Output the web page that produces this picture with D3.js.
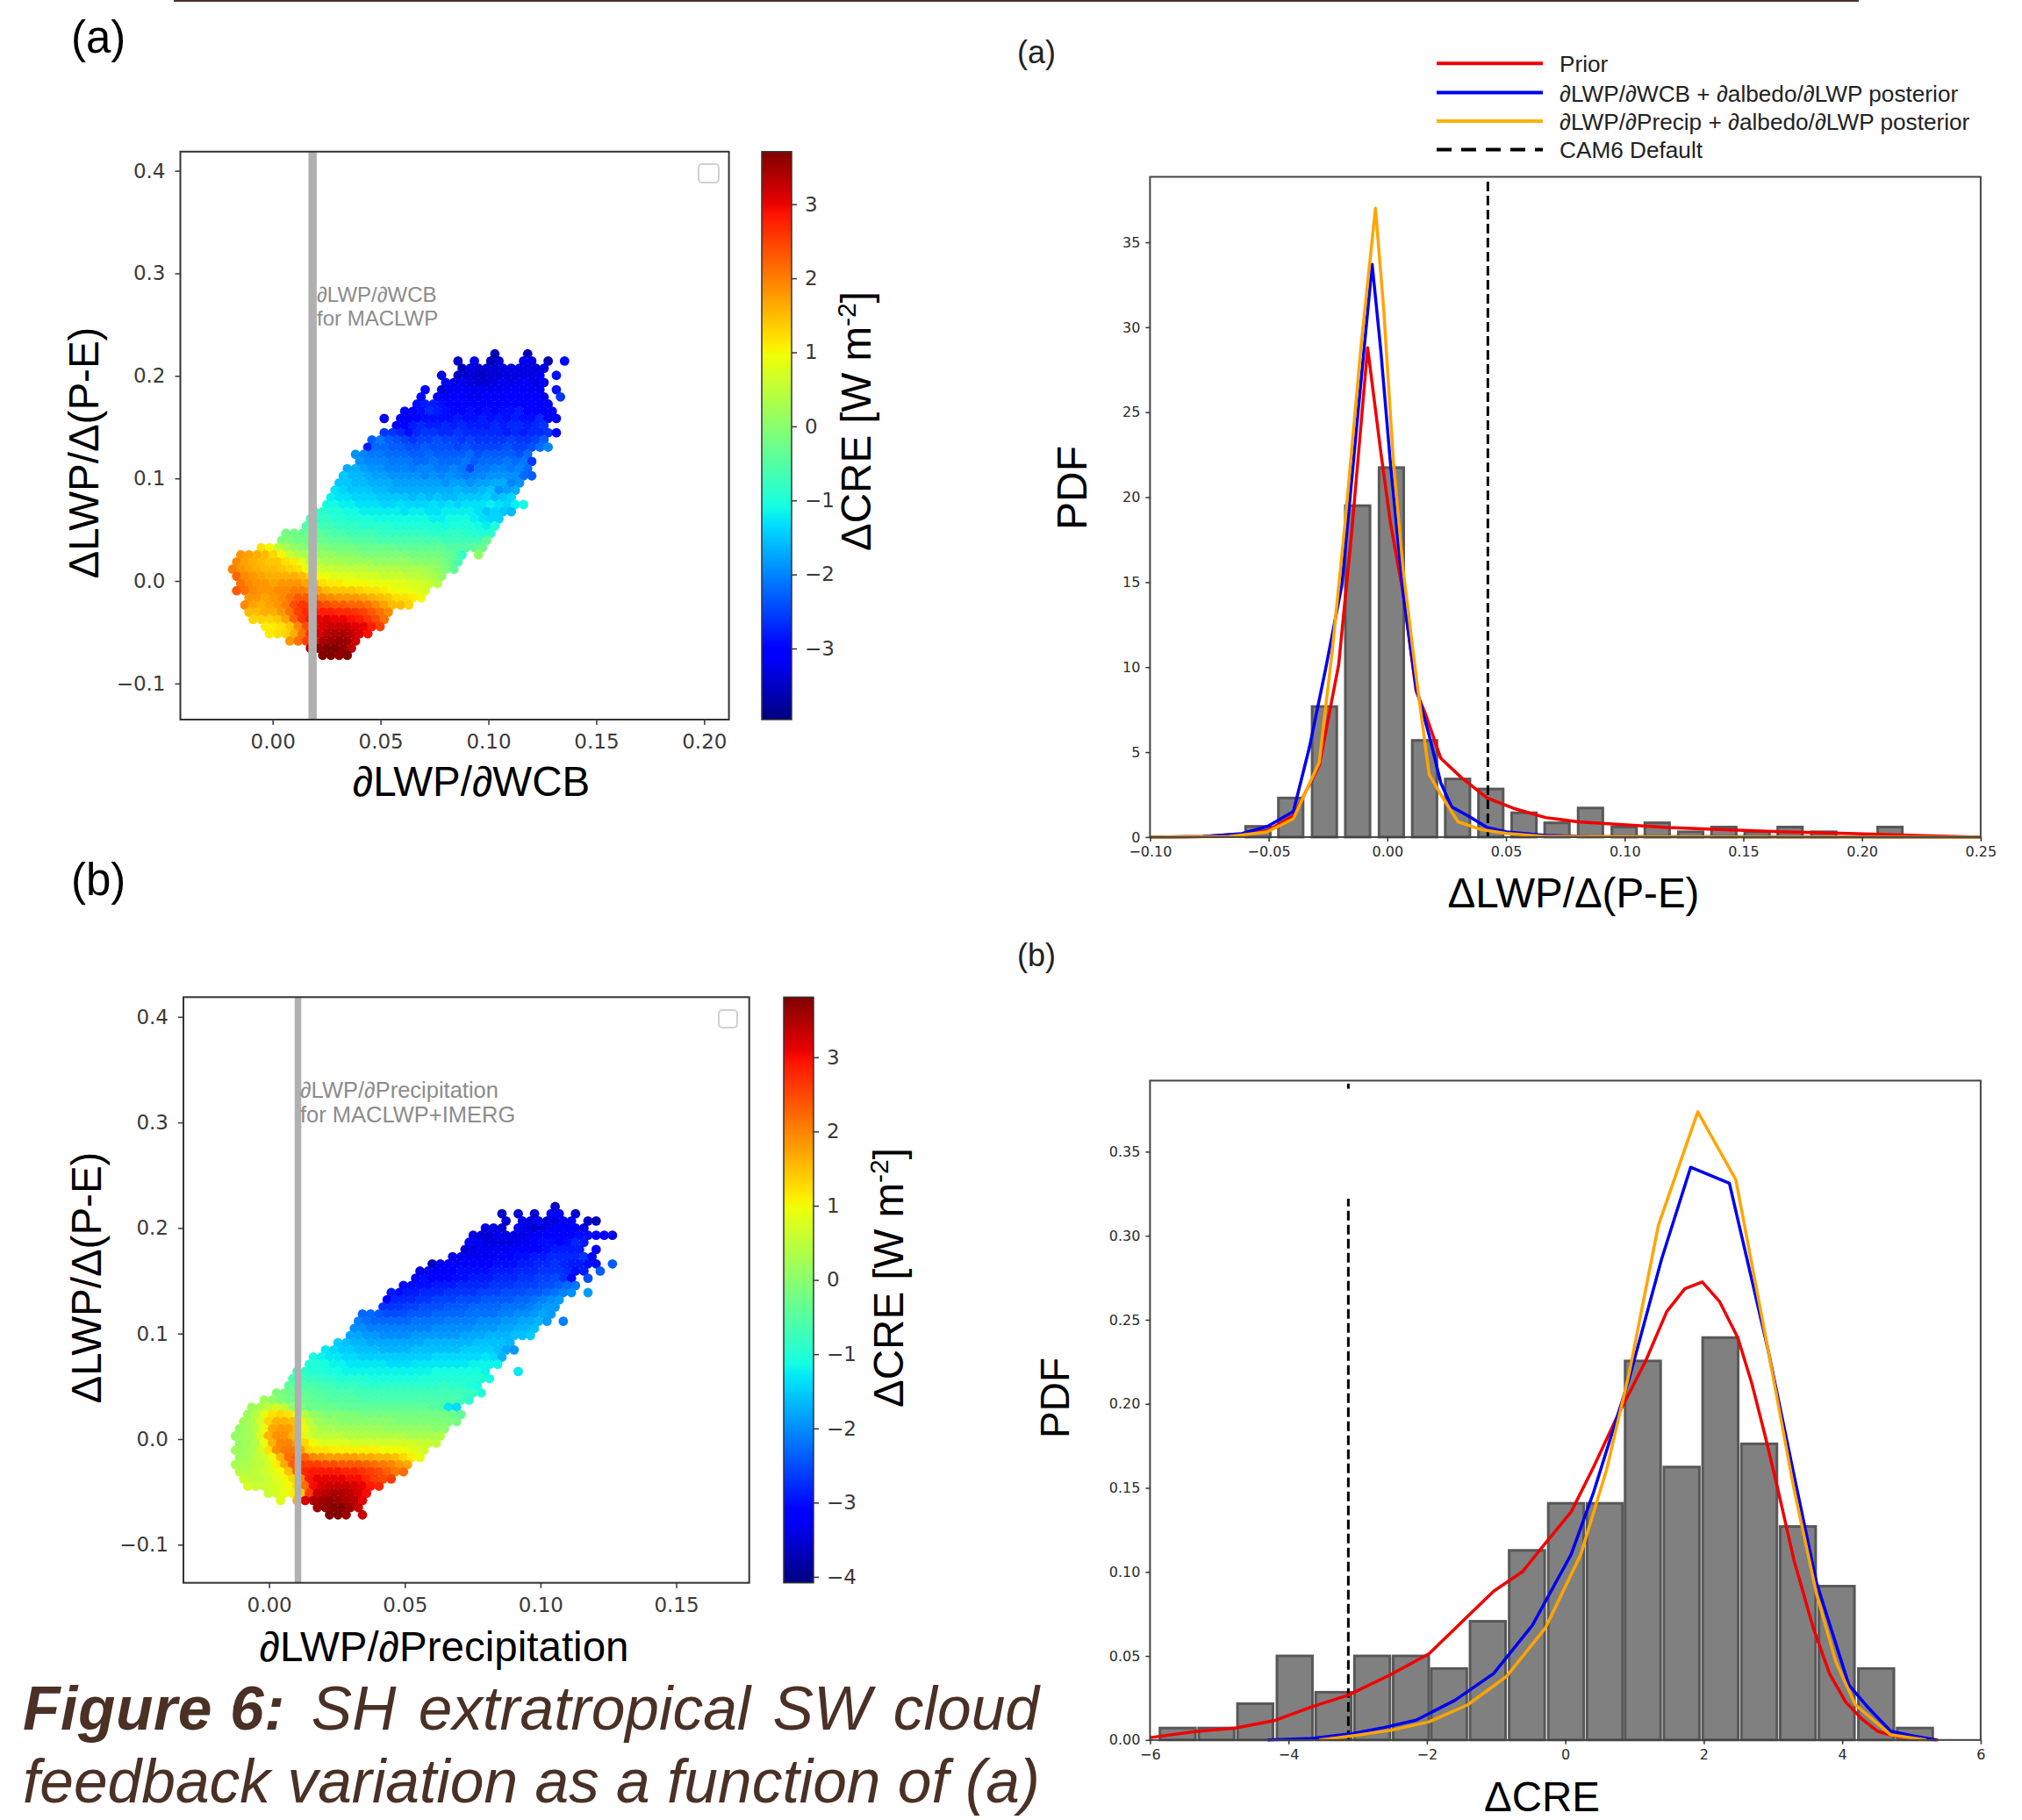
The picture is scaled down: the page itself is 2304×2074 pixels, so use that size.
<!DOCTYPE html>
<html>
<head>
<meta charset="utf-8">
<script src="https://d3js.org/d3.v7.min.js"></script>
<style>
body { margin: 0; background: #fff; }
text { font-family: "Liberation Sans", Arial, sans-serif; }
.mpl text { font-family: "DejaVu Sans", sans-serif; }
</style>
</head>
<body>
<div id="chart"></div>
<script>
// ---- scatter (a): lattice columns / rows, each row = [first column, CRE, CRE, ...], columns step by 2
const gridXA = [-.0186,-.0167,-.0148,-.0129,-.011,-.0091,-.0072,-.0053,-.0034,-.0015,.0004,.0023,.0042,.0061,.008,.0099,.0118,.0137,.0156,.0175,.0194,.0213,.0232,.0251,.027,.0289,.0308,.0327,.0346,.0365,.0384,.0403,.0422,.0441,.046,.0479,.0498,.0517,.0536,.0555,.0574,.0593,.0612,.0631,.065,.0669,.0688,.0707,.0726,.0745,.0764,.0783,.0802,.0821,.084,.0859,.0878,.0897,.0916,.0935,.0954,.0973,.0992,.1011,.103,.1049,.1068,.1087,.1106,.1125,.1144,.1163,.1182,.1201,.122,.1239,.1258,.1277,.1296,.1315,.1334,.1353,.1372];
const gridYA = [.2215,.2145,.2075,.2005,.1935,.1865,.1795,.1725,.1655,.1585,.1515,.1445,.1375,.1305,.1235,.1165,.1095,.1025,.0955,.0885,.0815,.0745,.0675,.0605,.0535,.0465,.0395,.0325,.0255,.0185,.0115,.0045,-.0025,-.0095,-.0165,-.0235,-.0305,-.0375,-.0445,-.0515,-.0585,-.0655,-.0725];
const rowsA = [
[64,-3.6,null,null,null,-3.5],
[55,-3.5,null,-3.1,null,-3.6,-3.4,null,null,-3.2,-3.3,null,-3.6,null,-3.1],
[56,-3.6,-3.3,-3.4,-3.4,-3.4,-3.3,-3.3,-3.3,-3.3,-3.4,-3.3],
[51,-3.3,null,-3.5,-3.4,-3.4,-3.5,-3.4,-3.4,-3.3,-3.3,-3.3,-3.3,-3.2,null,-2.9],
[52,-3.2,-3.3,-3.2,-3.3,-3.4,-3.4,-3.3,-3.2,-3.3,-3.2,-3.2,-3.3,-3.2],
[47,-3.0,null,-3.4,-3.2,-3.1,-3.2,-3.2,-3.2,-3.2,-3.2,-3.1,-3.1,-3.1,-3.2,-3.2,null,-2.9],
[46,-3.1,null,-3.0,-3.0,-3.1,-3.1,-3.2,-3.2,-3.1,-3.1,-3.1,-3.0,-3.1,-3.1,-3.1,-3.2,null,-2.6],
[45,-2.9,-2.8,-2.8,-2.9,-3.0,-3.1,-3.1,-3.0,-3.0,-3.1,-3.0,-3.0,-3.0,-3.1,-3.0,-3.1,-3.0],
[42,-3.1,-3.1,-2.9,-2.7,-2.8,-2.9,-3.0,-3.0,-2.9,-3.0,-2.9,-3.0,-2.9,-2.9,-2.8,-3.0,-3.0,-3.1,-3.0],
[37,-3.1,null,-3.1,-3.2,-3.0,-2.9,-2.9,-2.9,-2.9,-2.8,-2.9,-2.9,-2.8,-2.9,-2.8,-2.9,-2.8,-2.9,-2.9,-2.7,-3.0,-3.1],
[40,-3.1,-3.0,-2.8,-2.7,-2.8,-2.8,-2.7,-2.8,-2.7,-2.8,-2.8,-2.8,-2.7,-2.8,-2.7,-2.7,-2.8,-2.7,-2.6],
[37,-2.6,-2.6,-2.7,-2.9,-2.7,-2.6,-2.6,-2.7,-2.7,-2.6,-2.7,-2.7,-2.7,-2.7,-2.7,-2.8,-2.7,-2.8,-2.7,-2.7,-2.6,-3.0],
[34,-2.3,-2.1,-2.3,-2.4,-2.5,-2.6,-2.5,-2.5,-2.4,-2.5,-2.5,-2.6,-2.5,-2.6,-2.6,-2.6,-2.6,-2.5,-2.6,-2.6,-2.5,-2.3],
[33,-2.8,-2.2,-2.2,-2.3,-2.3,-2.4,-2.4,-2.3,-2.4,-2.4,-2.4,-2.5,-2.4,-2.5,-2.5,-2.5,-2.5,-2.4,-2.5,-2.5,-2.4,-2.2,-2.0],
[30,-1.9,-2.0,-2.1,-2.1,-2.2,-2.2,-2.2,-2.3,-2.3,-2.2,-2.3,-2.3,-2.3,-2.3,-2.2,-2.4,-2.3,-2.3,-2.3,-2.3,-2.4,-2.2],
[31,-1.9,-2.0,-2.0,-2.0,-2.1,-2.1,-2.1,-2.2,-2.2,-2.1,-2.2,-2.2,-2.2,-2.1,-2.3,-2.2,-2.2,-2.2,-2.1,-2.2,-2.1,-2.6],
[28,-1.7,-1.7,-1.8,-1.9,-1.9,-2.0,-2.0,-2.0,-2.1,-2.0,-2.0,-2.1,-2.1,-2.0,-2.1,-2.5,-2.1,-2.1,-2.0,-2.0,-2.1,-2.0,-2.2],
[27,-1.5,-1.6,-1.6,-1.7,-1.8,-1.8,-1.9,-1.9,-1.9,-1.9,-2.0,-1.9,-2.0,-1.9,-2.0,-2.1,-2.0,-2.0,-1.9,-1.9,-1.9,-1.9,-2.2,-2.3],
[26,-1.5,-1.5,-1.6,-1.6,-1.7,-1.7,-1.7,-1.8,-1.8,-1.8,-1.8,-1.8,-1.8,-1.9,-1.8,-1.8,-1.9,-1.8,-1.8,-1.7,-1.7,-2.0,-1.9],
[25,-1.3,-1.4,-1.5,-1.5,-1.5,-1.6,-1.6,-1.7,-1.7,-1.7,-1.7,-1.7,-1.7,-1.7,-1.7,-1.6,-1.7,-1.7,-1.6,-1.5,-1.9,-1.8,-1.7],
[24,-1.2,-1.3,-1.3,-1.4,-1.4,-1.4,-1.5,-1.5,-1.5,-1.5,-1.6,-1.5,-1.6,-1.5,-1.6,-1.6,-1.5,-1.5,-1.5,-1.4,-1.6,-1.5,-1.4],
[23,-1.1,-1.1,-1.2,-1.2,-1.3,-1.3,-1.3,-1.4,-1.4,-1.3,-1.4,-1.4,-1.4,-1.3,-1.4,-1.3,-1.4,-1.3,-1.3,-1.3,-1.2,-1.3,-1.4,-1.2,-1.1],
[20,-.8,-.9,-1.0,-1.0,-1.1,-1.1,-1.2,-1.2,-1.2,-1.2,-1.2,-1.3,-1.2,-1.2,-1.3,-1.3,-1.2,-1.2,-1.2,-1.2,-1.3,-1.5,-1.4,-1.5,-1.6],
[19,-.7,-.8,-.8,-.9,-.9,-1.0,-1.0,-1.0,-1.1,-1.1,-1.1,-1.1,-1.1,-1.1,-1.1,-1.2,-1.2,-1.1,-1.1,-1.1,-1.2,-1.3,-1.4,-1.4],
[18,-.5,-.6,-.7,-.7,-.8,-.8,-.8,-.9,-.9,-.9,-.9,-1.0,-1.0,-1.0,-1.0,-1.0,-1.0,-1.1,-1.0,-1.0,-1.0,-1.1,-1.2,-1.0],
[13,-.2,-.2,-.3,-.4,-.4,-.5,-.6,-.6,-.7,-.7,-.7,-.7,-.8,-.8,-.8,-.8,-.8,-.8,-.9,-.9,-.8,-.8,-.9,-.9,-1.0,-.9],
[12,-.1,-.1,-.2,-.2,-.3,-.3,-.4,-.4,-.4,-.5,-.5,-.5,-.6,-.6,-.6,-.6,-.6,-.6,-.6,-.6,-.7,-.7,-.7,-.7,-.7,-.4],
[7,1.2,1.0,.6,.3,.1,0,-.1,-.1,-.1,-.2,-.2,-.2,-.3,-.3,-.3,-.3,-.3,-.4,-.4,-.4,-.4,-.4,-.4,-.5,-.5,-.5,-.4,-.3],
[2,1.8,1.7,1.6,1.5,1.3,1.0,.6,.4,.3,.2,.1,.1,0,0,0,-.1,-.1,-.1,-.1,-.1,-.1,-.2,-.2,-.2,-.2,-.3,-.4,-.8,null,.1],
[1,1.9,1.7,1.6,1.5,1.4,1.4,1.2,1.1,.8,.5,.4,.3,.3,.3,.2,.2,.2,.1,.1,.1,.1,.1,0,0,0,-.1,-.3,-.6],
[0,2.0,1.8,1.7,1.6,1.5,1.5,1.4,1.3,1.2,.9,.7,.6,.6,.5,.5,.5,.5,.4,.4,.4,.4,.3,.3,.3,.2,.1,-.1,-.4],
[1,2.2,1.9,1.8,1.7,1.6,1.6,1.6,1.6,1.5,1.3,1.0,.9,.8,.8,.8,.7,.7,.7,.6,.6,.6,.5,.5,.4,.3,.1],
[2,2.1,1.9,1.8,1.8,1.7,1.8,1.8,1.8,1.7,1.5,1.2,1.1,1.1,1.0,1.0,1.0,.9,.9,.9,.8,.8,.7,.7,.6,.4],
[1,2.3,2.1,1.9,1.8,1.8,1.9,1.9,2.0,2.0,1.9,1.7,1.5,1.4,1.4,1.4,1.3,1.2,1.2,1.1,1.0,.9,.9,.8,.7],
[4,1.8,1.8,1.7,1.8,1.9,2.1,2.3,2.3,2.2,2.0,1.9,1.8,1.8,1.8,1.7,1.6,1.5,1.4,1.2,1.2,1.1,1.0],
[3,1.9,1.7,1.6,1.7,1.8,2.0,2.4,2.6,2.6,2.5,2.4,2.3,2.3,2.2,2.2,2.1,1.9,1.7,1.5,1.5,1.3],
[4,1.5,1.5,1.6,1.6,1.8,2.1,2.5,2.7,2.8,2.8,2.8,2.7,2.7,2.6,2.5,2.3,2.1,1.9],
[5,1.3,1.3,1.3,1.4,1.7,2.2,2.6,2.9,3.0,3.1,3.0,3.0,2.9,2.8,2.6,2.4,2.1],
[8,1.1,1.1,1.2,1.4,1.9,2.4,2.9,3.1,3.2,3.2,3.2,3.1,3.0,2.8,2.5],
[9,1.1,1.2,1.3,1.6,2.1,2.7,3.1,3.3,3.4,3.4,3.3,3.1,2.9],
[14,1.8,2.1,2.5,2.9,3.4,3.5,3.6,3.5,3.2],
[19,3.4,3.6,3.7,3.7,3.6,3.3],
[22,3.7,3.7,3.6,3.7]
];

// ---- scatter (b)
const gridXB = [-.0124,-.0109,-.0094,-.0079,-.0064,-.0049,-.0033,-.0018,-.0003,.0012,.0027,.0042,.0057,.0072,.0087,.0103,.0118,.0133,.0148,.0163,.0178,.0193,.0208,.0223,.0238,.0254,.0269,.0284,.0299,.0314,.0329,.0344,.0359,.0374,.0389,.0405,.042,.0435,.045,.0465,.048,.0495,.051,.0525,.054,.0556,.0571,.0586,.0601,.0616,.0631,.0646,.0661,.0676,.0691,.0707,.0722,.0737,.0752,.0767,.0782,.0797,.0812,.0827,.0842,.0858,.0873,.0888,.0903,.0918,.0933,.0948,.0963,.0978,.0993,.1009,.1024,.1039,.1054,.1069,.1084,.1099,.1114,.1129,.1144,.116,.1175,.119,.1205,.122,.1235,.125,.1265,.128];
const gridYB = [.2203,.2135,.2067,.2,.1931,.1864,.1796,.1728,.166,.1592,.1524,.1456,.1388,.132,.1252,.1185,.1117,.1049,.0981,.0913,.0845,.0777,.0709,.0641,.0573,.0505,.0438,.037,.0302,.0234,.0166,.0098,.003,-.0038,-.0106,-.0174,-.0242,-.0309,-.0377,-.0445,-.0513,-.0581,-.0649,-.0717];
const rowsB = [
[78,-3.6],
[65,-3.6,null,-3.5,null,-3.5,null,-3.2,-3.2,null,-3.5],
[66,-3.5,null,-3.4,-3.4,-3.3,-3.5,-3.4,-3.3,-3.3,null,-3.6,-3.7],
[61,-3.4,-3.4,-3.5,null,-3.3,-3.4,-3.5,-3.4,-3.3,-3.2,-3.3,-3.2,-3.4],
[58,-3.4,-3.5,-3.5,-3.3,-3.4,-3.4,-3.4,-3.3,-3.3,-3.2,-3.2,-3.1,-3.1,-3.0,-3.0,-3.1,-3.1,-3.3],
[57,-3.2,-3.3,-3.4,-3.4,-3.4,-3.4,-3.3,-3.3,-3.2,-3.0,-3.0,-3.1,-3.0,-2.8,-2.9],
[56,-3.5,-3.4,-3.3,-3.3,-3.3,-3.3,-3.2,-3.2,-3.1,-3.1,-3.0,-2.9,-2.9,-2.9,-2.9,null,-3.1],
[53,-3.4,-3.3,-3.3,-3.3,-3.3,-3.3,-3.2,-3.1,-3.0,-3.0,-2.9,-2.9,-2.8,-2.8,-2.8,-2.8,-2.7,-3.1],
[48,-3.7,-3.3,-3.2,-3.2,-3.2,-3.1,-3.1,-3.1,-3.0,-3.0,-3.0,-2.9,-2.9,-2.8,-2.8,-2.7,-2.8,-2.9,-2.9,-3.0,-3.0,null,-2.4],
[45,-3.4,-3.3,-3.2,-3.1,-3.1,-3.0,-3.0,-3.0,-3.0,-2.9,-2.9,-2.9,-2.8,-2.8,-2.8,-2.7,-2.7,-2.7,-2.8,-3.0,-2.9,null,-2.4],
[44,-3.2,-3.0,-3.1,-3.1,-3.1,-3.0,-3.0,-2.9,-2.9,-2.9,-2.8,-2.8,-2.8,-2.7,-2.7,-2.6,-2.6,-2.5,-2.7,-3.1,null,-2.5],
[41,-3.0,-3.0,-3.0,-3.0,-2.9,-2.9,-2.9,-2.8,-2.8,-2.8,-2.8,-2.7,-2.7,-2.7,-2.6,-2.6,-2.6,-2.5,-2.5,-2.4,-2.3,-2.2],
[38,-2.9,-3.0,-2.9,-2.9,-2.8,-2.8,-2.8,-2.7,-2.7,-2.7,-2.7,-2.6,-2.6,-2.6,-2.5,-2.5,-2.5,-2.4,-2.4,-2.3,-2.2,-2.1,-2.0,null,-1.9],
[37,-3.2,-2.8,-2.8,-2.8,-2.7,-2.7,-2.6,-2.6,-2.6,-2.5,-2.5,-2.5,-2.4,-2.4,-2.4,-2.4,-2.3,-2.3,-2.2,-2.1,-2.0,-1.9],
[36,-2.7,-2.7,-2.7,-2.6,-2.6,-2.5,-2.5,-2.5,-2.4,-2.4,-2.4,-2.3,-2.3,-2.3,-2.3,-2.2,-2.2,-2.2,-2.1,-2.0,-1.9,-1.9],
[31,-2.3,-2.3,-2.4,-2.5,-2.5,-2.5,-2.4,-2.4,-2.4,-2.3,-2.3,-2.3,-2.3,-2.2,-2.2,-2.2,-2.2,-2.1,-2.1,-2.0,-2.0,-1.9,-1.8,-1.9],
[30,-2.1,-2.2,-2.3,-2.3,-2.3,-2.3,-2.3,-2.2,-2.2,-2.2,-2.2,-2.1,-2.1,-2.1,-2.1,-2.0,-2.0,-2.0,-1.9,-1.9,-1.8,-1.8,-1.7,-1.9,null,-2.1],
[29,-2.0,-2.0,-2.1,-2.1,-2.1,-2.1,-2.1,-2.1,-2.1,-2.1,-2.0,-2.0,-2.0,-2.0,-2.0,-1.9,-1.9,-1.9,-1.8,-1.8,-1.7,-1.7,-1.6],
[28,-1.8,-1.8,-1.9,-1.9,-2.0,-2.0,-2.0,-2.0,-1.9,-1.9,-1.9,-1.9,-1.9,-1.9,-1.8,-1.8,-1.8,-1.7,-1.7,-1.7,-1.6,-1.6,-1.5],
[25,-1.5,-1.6,-1.7,-1.7,-1.8,-1.8,-1.8,-1.8,-1.8,-1.8,-1.8,-1.7,-1.7,-1.7,-1.7,-1.7,-1.7,-1.6,-1.6,-1.6,-1.6,-1.7],
[22,-1.3,-1.4,-1.5,-1.5,-1.6,-1.6,-1.6,-1.7,-1.7,-1.7,-1.7,-1.6,-1.6,-1.6,-1.6,-1.6,-1.6,-1.5,-1.5,-1.5,-1.5,-1.6,-1.8,-1.9],
[19,-1.1,-1.2,-1.3,-1.3,-1.4,-1.4,-1.5,-1.5,-1.5,-1.5,-1.5,-1.5,-1.5,-1.5,-1.5,-1.4,-1.4,-1.4,-1.4,-1.4,-1.4,-1.3,-1.4,-1.7],
[18,-1.0,-1.0,-1.1,-1.2,-1.2,-1.3,-1.3,-1.3,-1.3,-1.3,-1.4,-1.4,-1.4,-1.3,-1.3,-1.3,-1.3,-1.3,-1.3,-1.3,-1.2,-1.2,-1.2,-1.2],
[15,-.8,-.9,-1.0,-1.0,-1.1,-1.1,-1.2,-1.2,-1.2,-1.2,-1.2,-1.2,-1.2,-1.2,-1.2,-1.2,-1.2,-1.1,-1.1,-1.1,-1.1,-1.1,-1.1,-1.2,null,null,null,-1.3],
[14,-.6,-.7,-.8,-.8,-.9,-.9,-1.0,-1.0,-1.0,-1.0,-1.1,-1.1,-1.1,-1.1,-1.1,-1.1,-1.0,-1.0,-1.0,-1.0,-1.0,-1.0,-1.0,-1.0,-1.1],
[13,-.4,-.5,-.6,-.6,-.7,-.7,-.8,-.8,-.8,-.9,-.9,-.9,-.9,-.9,-.9,-.9,-.9,-.9,-.9,-.8,-.9,-.9,-1.0,-1.1],
[10,-.1,-.2,-.3,-.4,-.4,-.5,-.5,-.6,-.6,-.6,-.7,-.7,-.7,-.7,-.7,-.7,-.7,-.7,-.7,-.7,-.7,-.7,-.7,-.8,-.8,-1.0],
[7,.2,.1,-.1,-.2,-.3,-.3,-.4,-.4,-.5,-.5,-.5,-.5,-.6,-.6,-.6,-.6,-.6,-.6,-.6,-.6,-.6,-.6,-.6,-.6,-.7,-.9],
[4,.2,.3,.5,.7,.5,.1,-.1,-.3,-.3,-.3,-.3,-.4,-.4,-.4,-.4,-.4,-.4,-.4,-.4,-.4,-.4,-.4,-.5,-.5,-1.3,-1.4],
[3,.2,.4,.9,1.2,1.3,1.2,.9,.4,.1,0,-.1,-.1,-.1,-.1,-.2,-.2,-.2,-.2,-.2,-.2,-.2,-.2,-.2,-.2,-.2,-.3,-.4],
[2,.2,.3,.7,1.3,1.6,1.6,1.5,1.1,.5,.2,.1,.1,0,0,0,0,0,0,0,-.1,-.1,-.1,-.1,-.1,-.1,-.1,-.2],
[1,.1,.2,.4,.9,1.7,1.8,1.8,1.6,.9,.5,.3,.3,.2,.2,.2,.2,.2,.2,.1,.1,.1,.1,.1,.1,0,0],
[0,.1,.2,.3,.8,1.6,1.9,1.9,1.6,1.1,.7,.5,.5,.5,.5,.4,.4,.4,.4,.4,.4,.4,.3,.3,.3,.3,.4],
[1,.1,.2,.4,.9,1.6,2.0,2.0,1.8,1.3,1.0,.8,.8,.8,.8,.7,.7,.7,.7,.7,.7,.7,.7,.6,.6,.5],
[0,.2,.2,.3,.6,1.2,1.9,2.1,2.1,1.8,1.3,1.2,1.2,1.1,1.1,1.1,1.1,1.1,1.1,1.0,1.0,1.0,.9,.8,.7],
[1,.2,.3,.5,.6,1.0,1.6,2.2,2.4,2.3,2.0,1.9,1.8,1.8,1.8,1.8,1.7,1.7,1.6,1.6,1.5,1.3,1.1,.9],
[0,.3,.3,.4,.5,.7,1.1,1.7,2.3,2.6,2.6,2.6,2.5,2.5,2.4,2.4,2.4,2.3,2.2,2.1,2.0,1.8,1.7],
[1,.4,.4,.5,.6,.8,1.0,1.5,2.3,2.8,2.9,2.9,2.9,2.9,2.8,2.8,2.7,2.6,2.5,2.3,2.1,2.2],
[2,.6,.5,.5,.6,.8,1.0,1.3,2.0,2.9,3.1,3.1,3.1,3.1,3.0,3.0,2.8,2.6,2.5,2.6],
[3,.7,.6,.6,.7,.8,1.0,1.3,2.2,3.0,3.2,3.3,3.3,3.3,3.2,3.1,2.9,2.8],
[8,.6,.7,.9,1.1,1.4,2.6,3.3,3.4,3.5,3.5,3.4,3.2,3.0],
[11,.8,null,1.6,3.2,3.5,3.6,3.7,3.6,3.5,3.4,3.1],
[20,3.6,3.7,3.8,3.8,3.6,3.3],
[23,3.8,3.8,3.6,null,3.3]
];

// ---- histogram (a)
const histA_centers = [-.0545,-.0407,-.0265,-.0125,.0017,.0157,.0296,.0436,.0576,.0715,.0856,.0998,.1137,.1278,.1418,.1558,.1697,.1839,.2118];
const histA_values = [.63,2.3,7.68,19.5,21.74,5.69,3.42,2.83,1.43,.84,1.71,.59,.84,.31,.59,.31,.59,.31,.59];
const priorA_x = [-.1,-.0777,-.0586,-.0505,-.0396,-.0287,-.0205,-.0151,-.0083,-.0028,.0013,.0067,.0121,.0162,.0225,.0312,.0421,.053,.0666,.0802,.0992,.1183,.14,.1673,.1945,.2217,.25];
const priorA_y = [0,.03,.2,.38,1.26,4.2,10.15,17.8,28.8,22.7,18.5,14.3,8.6,7.2,4.64,3.5,2.3,1.7,1.15,.9,.73,.56,.45,.31,.21,.1,0];
const wcbA_x = [-.1,-.0777,-.0614,-.0505,-.0396,-.0328,-.026,-.0192,-.0124,-.0064,-.0028,.0013,.0067,.0121,.0176,.0225,.0271,.0339,.0421,.0503,.0666,.0856,.25];
const wcbA_y = [0,.03,.2,.63,1.5,5.3,9.9,14.8,24.9,33.7,28.7,22,14.3,8.8,6,3.2,1.78,1.26,.56,.31,.1,.03,0];
const precipA_x = [-.1,-.0668,-.0505,-.0396,-.0287,-.0233,-.0178,-.011,-.005,-.0015,.0026,.0067,.0121,.0176,.0225,.0298,.0393,.0503,.0666,.25];
const precipA_y = [0,.03,.31,1.08,4.4,10.85,18.5,29,37,31,22,15.7,9.5,3.7,2.5,.9,.45,.21,.03,0];
const defaultA_x = .04235;

// ---- histogram (b)
const histB_centers = [-5.6,-5.04,-4.48,-3.91,-3.35,-2.79,-2.23,-1.68,-1.12,-.555,.01,.57,1.12,1.68,2.24,2.8,3.36,3.92,4.49,5.05];
const histB_values = [.0071,.0071,.0216,.05,.0284,.05,.05,.0425,.0706,.1128,.1408,.1408,.2255,.1624,.2394,.1762,.127,.0915,.0425,.0071];
const priorB_x = [-6,-5.328,-4.768,-4.208,-3.648,-3.135,-2.528,-1.968,-1.501,-1.035,-.615,-.289,.084,.411,.737,1.157,1.465,1.726,1.978,2.23,2.491,2.697,2.884,3.07,3.303,3.583,3.816,4.05,4.283,4.516,4.749,5.029,5.384];
const priorB_y = [.0014,.0051,.0071,.0115,.0199,.0267,.0388,.0513,.07,.0885,.1003,.117,.1357,.1627,.1914,.2252,.2549,.2684,.2725,.2607,.2394,.2117,.1813,.1492,.107,.0665,.0395,.0226,.0125,.0051,.0024,.001,0];
const wcbB_x = [-4.302,-3.649,-3.089,-2.622,-2.156,-1.596,-1.036,-.476,.084,.41,.923,1.39,1.81,2.37,2.93,3.303,3.63,3.863,4.097,4.376,4.703,5.03,5.356];
const wcbB_y = [0,.001,.0037,.0074,.0118,.0236,.0395,.0682,.1104,.1476,.2151,.286,.3407,.3312,.2319,.1577,.0935,.0631,.0327,.0192,.0051,.0024,0];
const precipB_x = [-3.555,-3.089,-2.529,-1.969,-1.41,-.85,-.29,.224,.597,.923,1.344,1.913,2.463,2.93,3.303,3.63,3.91,4.19,4.703,5.216];
const precipB_y = [0,.0024,.0057,.0108,.0209,.0378,.0665,.1104,.161,.2184,.3062,.3737,.3333,.2319,.1492,.0868,.0463,.0209,.003,0];
const defaultB_x = -3.135;

// ---- ticks and legend text
const xticksA = [0,.05,.1,.15,.2];
const xticksB = [0,.05,.1,.15];
const yticksScatter = [-.1,0,.1,.2,.3,.4];
const cbarTicksA = [-3,-2,-1,0,1,2,3];
const cbarTicksB = [-4,-3,-2,-1,0,1,2,3];
const histXticksA = [-.1,-.05,0,.05,.1,.15,.2,.25];
const histYticksA = [0,5,10,15,20,25,30,35];
const histXticksB = [-6,-4,-2,0,2,4,6];
const histYticksB = [0,.05,.1,.15,.2,.25,.3,.35];
const legendLabels = ["Prior","∂LWP/∂WCB + ∂albedo/∂LWP posterior","∂LWP/∂Precip + ∂albedo/∂LWP posterior","CAM6 Default"];
const legendColors = ["#f00000","#0000f0","#ffb000","#000"];

const BROWN = "#4a3025";

const svg = d3.select("#chart").append("svg")
	.attr("width", 2304)
	.attr("height", 2074);

// jet, same channel breakpoints as matplotlib
const jetR = d3.scaleLinear().domain([0,.35,.66,.89,1]).range([0,0,1,1,.5]);
const jetG = d3.scaleLinear().domain([0,.125,.375,.64,.91,1]).range([0,0,1,1,0,0]);
const jetB = d3.scaleLinear().domain([0,.11,.34,.65,1]).range([.5,1,1,0,0]);
function jet(t) {
	t = Math.max(0, Math.min(1, t));
	return d3.rgb(jetR(t)*255, jetG(t)*255, jetB(t)*255).formatHex();
}

function text(x, y, str, size, opts) {
	opts = opts || {};
	const t = svg.append("text")
		.attr("x", x).attr("y", y)
		.attr("font-size", size)
		.attr("fill", opts.fill || "#000")
		.attr("text-anchor", opts.anchor || "start")
		.text(str);
	if (opts.rotate) t.attr("transform", "rotate(-90," + x + "," + y + ")");
	return t;
}

function styleAxis(g, color, width) {
	g.attr("class", "mpl");
	g.selectAll("line").attr("stroke", color).attr("stroke-width", width);
	g.select(".domain").remove();
}

function drawScatter(p) {
	const x = d3.scaleLinear().domain(p.xDomain).range([p.left, p.right]);
	const y = d3.scaleLinear().domain(p.yDomain).range([p.bottom, p.top]);
	const cre = d3.scaleLinear().domain(p.creDomain).range([0, 1]);

	const points = [];
	p.rows.forEach((row, r) => {
		row.slice(1).forEach((v, i) => {
			if (v !== null) points.push({x: p.gridX[row[0] + 2*i], y: p.gridY[r], v: v});
		});
	});

	svg.append("g").selectAll("circle")
		.data(points)
		.join("circle")
		.attr("cx", d => x(d.x))
		.attr("cy", d => y(d.y))
		.attr("r", 5.4)
		.attr("fill", d => jet(cre(d.v)));

	// observed sensitivity band
	svg.append("line")
		.attr("x1", x(p.obs)).attr("x2", x(p.obs))
		.attr("y1", p.top).attr("y2", p.bottom)
		.attr("stroke", "#b0b0b0")
		.attr("stroke-width", p.obsWidth);

	text(p.noteX, p.noteY, p.note[0], p.noteSize, {fill: "#8c8c8c"}).attr("font-family", "DejaVu Sans");
	text(p.noteX, p.noteY + p.noteGap, p.note[1], p.noteSize, {fill: "#8c8c8c"}).attr("font-family", "DejaVu Sans");

	// empty legend box
	svg.append("rect")
		.attr("x", p.legend[0]).attr("y", p.legend[1])
		.attr("width", p.legend[2]).attr("height", p.legend[3])
		.attr("rx", 4)
		.attr("fill", "#fff").attr("stroke", "#d0d0d0").attr("stroke-width", 2);

	svg.append("rect")
		.attr("x", p.left).attr("y", p.top)
		.attr("width", p.right - p.left).attr("height", p.bottom - p.top)
		.attr("fill", "none").attr("stroke", "#333").attr("stroke-width", 2);

	const gx = svg.append("g").attr("transform", "translate(0," + p.bottom + ")")
		.call(d3.axisBottom(x).tickValues(p.xticks).tickFormat(d3.format(".2f")).tickSize(6).tickPadding(11));
	styleAxis(gx, "#333", 1.5);
	gx.selectAll("text").attr("font-size", 23).attr("fill", "#3a3a3a");

	const gy = svg.append("g").attr("transform", "translate(" + p.left + ",0)")
		.call(d3.axisLeft(y).tickValues(yticksScatter).tickFormat(d3.format(".1f")).tickSize(6).tickPadding(11));
	styleAxis(gy, "#333", 1.5);
	gy.selectAll("text").attr("font-size", 23).attr("fill", "#3a3a3a");

	// colour bar
	const gradId = "jet" + p.id;
	const grad = svg.append("defs").append("linearGradient")
		.attr("id", gradId).attr("x1", 0).attr("x2", 0).attr("y1", 1).attr("y2", 0);
	[0,.11,.125,.34,.35,.375,.64,.65,.66,.89,.91,1].forEach(s => {
		grad.append("stop").attr("offset", s).attr("stop-color", jet(s));
	});
	svg.append("rect")
		.attr("x", p.cbLeft).attr("y", p.top)
		.attr("width", p.cbWidth).attr("height", p.bottom - p.top)
		.attr("fill", "url(#" + gradId + ")")
		.attr("stroke", "#333").attr("stroke-width", 1.5);
	const cy = d3.scaleLinear().domain(p.creDomain).range([p.bottom, p.top]);
	const gc = svg.append("g").attr("transform", "translate(" + (p.cbLeft + p.cbWidth) + ",0)")
		.call(d3.axisRight(cy).tickValues(p.cbTicks).tickFormat(d3.format("d")).tickSize(6).tickPadding(9));
	styleAxis(gc, "#333", 1.5);
	gc.selectAll("text").attr("font-size", 23).attr("fill", "#3a3a3a");

	text(p.xLabel[0], p.xLabel[1], p.xLabel[2], 47.5, {anchor: "middle"});
	text(p.yLabel[0], p.yLabel[1], "ΔLWP/Δ(P-E)", 47.5, {anchor: "middle", rotate: true});

	const cl = text(p.cbLabel[0], p.cbLabel[1], "", 47.5, {anchor: "middle", rotate: true});
	cl.append("tspan").text("ΔCRE [W m");
	cl.append("tspan").attr("font-size", 30).attr("dy", -17).text("-2");
	cl.append("tspan").attr("dy", 17).text("]");
}

function drawHist(p) {
	const x = d3.scaleLinear().domain(p.xDomain).range([p.left, p.right]);
	const y = d3.scaleLinear().domain(p.yDomain).range([p.bottom, p.top]);

	svg.append("g").selectAll("rect")
		.data(p.centers)
		.join("rect")
		.attr("x", d => x(d - p.barWidth/2))
		.attr("width", d => x(d + p.barWidth/2) - x(d - p.barWidth/2))
		.attr("y", (d, i) => y(p.values[i]))
		.attr("height", (d, i) => p.bottom - y(p.values[i]))
		.attr("fill", "#808080")
		.attr("stroke", "#585858")
		.attr("stroke-width", 3);

	p.dashes.forEach(seg => {
		svg.append("line")
			.attr("x1", x(p.defaultX)).attr("x2", x(p.defaultX))
			.attr("y1", y(seg[0])).attr("y2", y(seg[1]))
			.attr("stroke", "#000").attr("stroke-width", 3)
			.attr("stroke-dasharray", "11,5");
	});

	const line = d3.line().x(d => x(d[0])).y(d => y(d[1]));
	p.curves.forEach(c => {
		svg.append("path")
			.datum(d3.zip(c.x, c.y))
			.attr("fill", "none")
			.attr("stroke", c.color)
			.attr("stroke-width", 3.5)
			.attr("stroke-linejoin", "round")
			.attr("d", line);
	});

	svg.append("rect")
		.attr("x", p.left).attr("y", p.top)
		.attr("width", p.right - p.left).attr("height", p.bottom - p.top)
		.attr("fill", "none").attr("stroke", "#444").attr("stroke-width", 2);

	const gx = svg.append("g").attr("transform", "translate(0," + p.bottom + ")")
		.call(d3.axisBottom(x).tickValues(p.xticks).tickFormat(d3.format(p.xFormat)).tickSize(5).tickPadding(6));
	styleAxis(gx, "#333", 1.5);
	gx.selectAll("text").attr("font-size", 16).attr("fill", "#2a2a2a");

	const gy = svg.append("g").attr("transform", "translate(" + p.left + ",0)")
		.call(d3.axisLeft(y).tickValues(p.yticks).tickFormat(d3.format(p.yFormat)).tickSize(5).tickPadding(6));
	styleAxis(gy, "#333", 1.5);
	gy.selectAll("text").attr("font-size", 16).attr("fill", "#2a2a2a");

	text(p.xLabel[0], p.xLabel[1], p.xLabel[2], 47.5, {anchor: "middle"});
	text(p.yLabel[0], p.yLabel[1], "PDF", p.yLabel[2], {anchor: "middle", rotate: true});
}

drawScatter({
	id: "A", rows: rowsA, gridX: gridXA, gridY: gridYA,
	left: 205.5, right: 830.6, top: 172.8, bottom: 820,
	xDomain: [-.0428, .2115], yDomain: [-.1352, .4187], creDomain: [-3.96, 3.71],
	xticks: xticksA, obs: .0185, obsWidth: 9.5,
	note: ["∂LWP/∂WCB", "for MACLWP"], noteSize: 24, noteX: 361, noteY: 344, noteGap: 27,
	legend: [796, 187, 23, 21],
	cbLeft: 868, cbWidth: 34, cbTicks: cbarTicksA,
	xLabel: [537, 907, "∂LWP/∂WCB"], yLabel: [112, 516], cbLabel: [992, 480]
});

drawScatter({
	id: "B", rows: rowsB, gridX: gridXB, gridY: gridYB,
	left: 209, right: 853.7, top: 1136.3, bottom: 1803.7,
	xDomain: [-.03157, .1769], yDomain: [-.1361, .4187], creDomain: [-4.08, 3.81],
	xticks: xticksB, obs: .01064, obsWidth: 7.5,
	note: ["∂LWP/∂Precipitation", "for MACLWP+IMERG"], noteSize: 25.5, noteX: 342, noteY: 1251, noteGap: 28,
	legend: [819, 1151, 21, 20],
	cbLeft: 893, cbWidth: 34, cbTicks: cbarTicksB,
	xLabel: [506, 1893, "∂LWP/∂Precipitation"], yLabel: [115, 1456], cbLabel: [1029, 1456]
});

drawHist({
	left: 1310.4, right: 2256.9, top: 201.5, bottom: 953.9,
	xDomain: [-.1, .25], yDomain: [0, 38.85],
	centers: histA_centers, values: histA_values, barWidth: .0104,
	defaultX: defaultA_x, dashes: [[0, 38.85]],
	curves: [
		{x: priorA_x, y: priorA_y, color: "#f00000"},
		{x: wcbA_x, y: wcbA_y, color: "#0000f0"},
		{x: precipA_x, y: precipA_y, color: "#ffa500"}
	],
	xticks: histXticksA, yticks: histYticksA, xFormat: ".2f", yFormat: "d",
	xLabel: [1793, 1034, "ΔLWP/Δ(P-E)"], yLabel: [1238, 556, 48]
});

drawHist({
	left: 1310.4, right: 2256.9, top: 1231.4, bottom: 1982.8,
	xDomain: [-6, 6], yDomain: [0, .3923],
	centers: histB_centers, values: histB_values, barWidth: .513,
	defaultX: defaultB_x, dashes: [[0, .322], [.3905, .3875]],
	curves: [
		{x: priorB_x, y: priorB_y, color: "#f00000"},
		{x: wcbB_x, y: wcbB_y, color: "#0000f0"},
		{x: precipB_x, y: precipB_y, color: "#ffa500"}
	],
	xticks: histXticksB, yticks: histYticksB, xFormat: "d", yFormat: ".2f",
	xLabel: [1757, 2064, "ΔCRE"], yLabel: [1218, 1593, 46]
});

// legend of the right column
[72.3, 105.5, 138, 170.4].forEach((ly, i) => {
	const l = svg.append("line")
		.attr("x1", 1637).attr("x2", 1758)
		.attr("y1", ly).attr("y2", ly)
		.attr("stroke", legendColors[i]).attr("stroke-width", 4);
	if (i === 3) l.attr("stroke-dasharray", "17,11");
	text(1777, ly + 10, legendLabels[i], 26.2, {fill: "#222"});
});

// panel letters
text(81, 60, "(a)", 51);
text(81, 1020, "(b)", 51);
text(1159, 72, "(a)", 36, {fill: "#222"});
text(1159, 1101, "(b)", 36, {fill: "#222"});

// slide rule and caption around the figure
svg.append("line")
	.attr("x1", 198).attr("x2", 2118)
	.attr("y1", 0.5).attr("y2", 0.5)
	.attr("stroke", BROWN).attr("stroke-width", 3);

text(26, 1971, "Figure 6:", 69.5, {fill: BROWN})
	.attr("font-weight", "bold").attr("font-style", "italic").attr("letter-spacing", .6);
text(1184, 1971, "SH extratropical SW cloud", 69.5, {fill: BROWN, anchor: "end"})
	.attr("font-style", "italic").attr("word-spacing", 6);
text(26, 2054, "feedback variation as a function of (a)", 69.5, {fill: BROWN})
	.attr("font-style", "italic");
</script>
</body>
</html>
